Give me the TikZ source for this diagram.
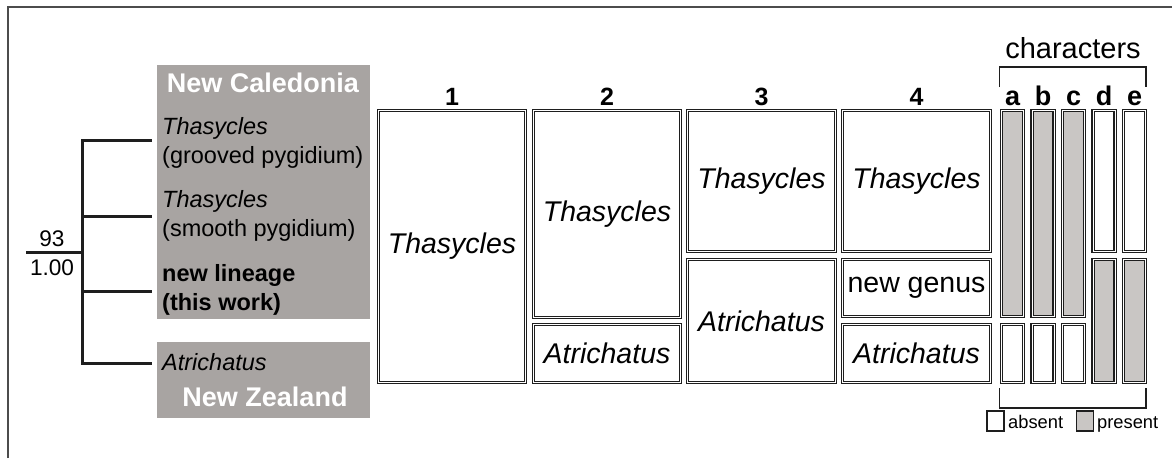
\documentclass[tikz,border=0pt]{standalone}
\usepackage{fontspec}
\setmainfont{Liberation Sans}
\definecolor{regiongray}{RGB}{168,164,162}
\definecolor{barfill}{RGB}{201,198,196}
\definecolor{ink}{RGB}{30,30,30}
\begin{document}
\begin{tikzpicture}[x=1pt,y=-1pt,
  cell/.style={draw=ink, line width=1.1pt, double=white, double distance=1pt,
    fill=white, inner sep=0pt, font=\fontsize{28.5}{34}\selectfont\itshape},
  plaincell/.style={cell, font=\fontsize{28.5}{34}\selectfont},
  bar/.style={draw=ink, line width=1.1pt, double=white, double distance=1pt,
    inner sep=0pt, minimum width=22pt},
  absentbar/.style={bar, fill=white},
  presentbar/.style={bar, fill=barfill},
  colhead/.style={anchor=base, font=\fontsize{25}{30}\selectfont\bfseries, inner sep=0pt},
  charhead/.style={anchor=base, font=\fontsize{27}{32}\selectfont\bfseries, inner sep=0pt},
  region/.style={fill=regiongray, draw=none},
  regionname/.style={text=white, font=\fontsize{27}{32}\selectfont\bfseries, inner sep=0pt},
  taxon/.style={anchor=west, align=left, inner sep=0pt,
    font=\fontsize{23.5}{29}\selectfont},
  branch/.style={line width=3pt, ink},
  support/.style={font=\fontsize{22.6}{27}\selectfont, inner sep=0pt},
  bracketline/.style={line width=1.6pt, ink},
  legendtext/.style={anchor=base west, inner sep=0pt, font=\fontsize{18.3}{22}\selectfont},
  legendbox/.style={draw=ink, line width=1.5pt, minimum width=17pt, minimum height=20pt, inner sep=0pt}
]
\useasboundingbox (0,0) rectangle (1172,458);

% frame
\draw[line width=1.5pt, black!70] (8,458) -- (8,7) -- (1172,7);

% geographic regions
\path[region] (157,65) rectangle (370,319);
\path[region] (157,342) rectangle (370,418);
\node[regionname] (nc) at (263,83) {New Caledonia};
\node[regionname] (nz) at (265,397) {New Zealand};

% taxa
\node[taxon] (t1) at (162,142.5) {\itshape Thasycles\\(grooved pygidium)};
\node[taxon] (t2) at (162,216) {\itshape Thasycles\\(smooth pygidium)};
\node[taxon] (t3) at (162,289.5) {\bfseries new lineage\\\bfseries (this work)};
\node[taxon] (t4) at (162,362) {\itshape Atrichatus};

% tree
\coordinate (root) at (26,252);
\coordinate (jroot) at (82,252);
\coordinate (j1) at (82,140);
\coordinate (j2) at (82,216);
\coordinate (j3) at (82,291);
\coordinate (j4) at (82,363);
\coordinate (e1) at (152,140);
\coordinate (e2) at (152,216);
\coordinate (e3) at (152,291);
\coordinate (e4) at (152,363);
\draw[branch, line cap=rect] (j1) -- (j4);
\draw[branch] (root) -- (jroot);
\draw[branch] (j1) -- (e1);
\draw[branch] (j2) -- (e2);
\draw[branch] (j3) -- (e3);
\draw[branch] (j4) -- (e4);
\node[support] (boot) at (52,239) {93};
\node[support] (post) at (52,268) {1.00};

% column headers
\node[colhead] (h1) at (452,105) {1};
\node[colhead] (h2) at (607,105) {2};
\node[colhead] (h3) at (761.5,105) {3};
\node[colhead] (h4) at (916.5,105) {4};

% classification 1
\node[cell, minimum width=147pt, minimum height=272pt] (c1a) at (452,246.5) {Thasycles};
% classification 2
\node[cell, minimum width=147pt, minimum height=207pt] (c2a) at (607,214) {Thasycles};
\node[cell, minimum width=147pt, minimum height=58pt] (c2b) at (607,353.5) {Atrichatus};
% classification 3
\node[cell, minimum width=148pt, minimum height=141pt] (c3a) at (761.5,181) {Thasycles};
\node[cell, minimum width=148pt, minimum height=123pt] (c3b) at (761.5,321) {Atrichatus};
% classification 4
\node[cell, minimum width=148pt, minimum height=141pt] (c4a) at (916.5,181) {Thasycles};
\node[plaincell, minimum width=148pt, minimum height=57pt] (c4b) at (916.5,288) {new genus};
\node[cell, minimum width=148pt, minimum height=58pt] (c4c) at (916.5,353.5) {Atrichatus};

% characters
\node[anchor=base, font=\fontsize{29}{34}\selectfont, inner sep=0pt] (chars) at (1073,58) {characters};
\draw[bracketline] (999.5,87) -- (999.5,67) -- (1146,67) -- (1146,87);
\node[charhead] (la) at (1012.5,105) {a};
\node[charhead] (lb) at (1043,105) {b};
\node[charhead] (lc) at (1073.5,105) {c};
\node[charhead] (ld) at (1104,105) {d};
\node[charhead] (le) at (1134.5,105) {e};

\foreach \x/\n in {1012.5/a, 1043/b, 1073.5/c} {
  \node[presentbar, minimum height=206pt] (\n1) at (\x,213.5) {};
  \node[absentbar, minimum height=58pt] (\n2) at (\x,353.5) {};
}
\foreach \x/\n in {1104/d, 1134.5/e} {
  \node[absentbar, minimum height=141pt] (\n1) at (\x,181) {};
  \node[presentbar, minimum height=123pt] (\n2) at (\x,321) {};
}
\draw[bracketline] (999.5,388) -- (999.5,408) -- (1146,408) -- (1146,388);

% legend
\node[legendbox, fill=white] (kabs) at (995.5,421) {};
\node[legendtext] (tabs) at (1008,428) {absent};
\node[legendbox, fill=barfill] (kpres) at (1085,421) {};
\node[legendtext] (tpres) at (1097,428) {present};
\end{tikzpicture}
\end{document}
